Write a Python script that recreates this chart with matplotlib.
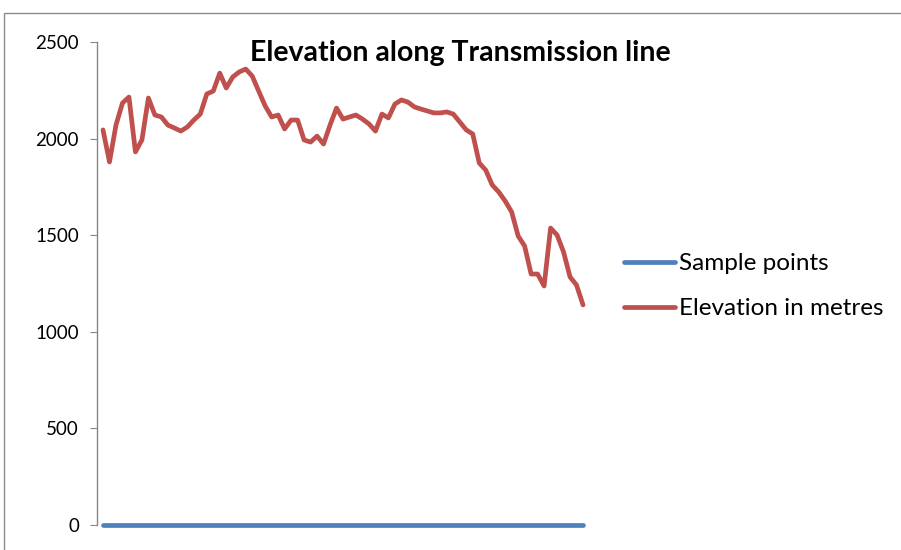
import matplotlib.pyplot as plt
from matplotlib.patches import Rectangle

# elevation, one value per sample point
elevation = [2045, 1879, 2070, 2184, 2215, 1931, 1993, 2210, 2122, 2112,
             2070, 2055, 2039, 2060, 2096, 2127, 2231, 2246, 2339, 2262,
             2319, 2345, 2360, 2324, 2246, 2169, 2112, 2122, 2050, 2096,
             2096, 1993, 1982, 2013, 1972, 2070, 2158, 2101, 2112, 2122,
             2101, 2076, 2039, 2127, 2107, 2179, 2200, 2189, 2164, 2153,
             2143, 2133, 2133, 2138, 2127, 2086, 2045, 2024, 1874, 1837,
             1760, 1724, 1677, 1620, 1496, 1444, 1299, 1299, 1237, 1537,
             1501, 1413, 1284, 1242, 1139]
sample_points = [0] * len(elevation)
yticks = [0, 500, 1000, 1500, 2000, 2500]
title = 'Elevation along Transmission line'

plt.rcParams['font.family'] = ['Lato', 'DejaVu Sans']

W, H = 901, 550
fig = plt.figure(figsize=(W / 100, H / 100), dpi=100)

# chart area border (right and bottom edges fall outside the crop)
fig.patches.append(Rectangle((4 / W, -0.1), 1.1, 1.1 - 13 / H, transform=fig.transFigure,
                             fill=False, edgecolor='#8c8c8c', linewidth=1.0))

ax = fig.add_axes([97 / W, (H - 525) / H, (589.5 - 97) / W, (525 - 42) / H])
x = list(range(len(elevation)))
ax.plot(x, sample_points, color='#4F81BD', linewidth=3.4, solid_capstyle='round',
        label='Sample points', clip_on=False)
ax.plot(x, elevation, color='#C0504D', linewidth=3.4, solid_capstyle='round',
        solid_joinstyle='round', label='Elevation in metres', clip_on=False)

ax.set_xlim(-0.925, 75.0)
ax.set_ylim(0, 2500)
ax.set_yticks(yticks)
ax.set_xticks([])
for s in ['top', 'right', 'bottom']:
    ax.spines[s].set_visible(False)
ax.spines['left'].set_color('#868686')
ax.spines['left'].set_linewidth(1.0)
ax.tick_params(axis='y', direction='out', length=5, color='#868686',
               labelsize=13.5, pad=8)
ax.set_facecolor('none')

fig.text(460 / W, 1 - 53 / H, title, ha='center', va='center',
         fontsize=20.5, fontweight='bold')

leg = fig.legend(loc='upper left', bbox_to_anchor=(624 / W, 1 - 253 / H),
                 frameon=False, fontsize=17.5, handlelength=2.1,
                 labelspacing=1.0, handletextpad=0.17, borderaxespad=0,
                 borderpad=0)

fig.savefig('out.png', dpi=100)
